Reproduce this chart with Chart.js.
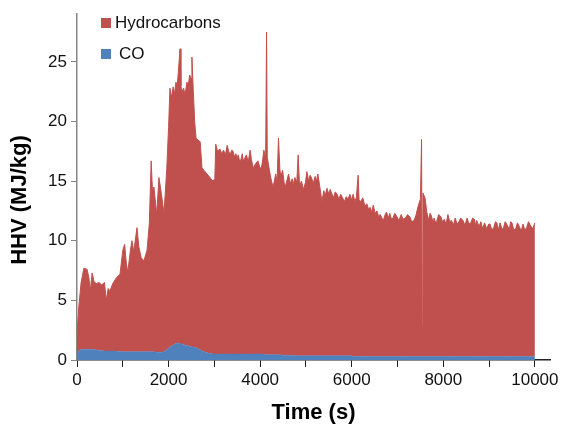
<!DOCTYPE html>
<html>
<head>
<meta charset="utf-8">
<script src="https://cdn.jsdelivr.net/npm/chart.js@4.4.0/dist/chart.umd.min.js"></script>
<style>
  html, body { margin: 0; padding: 0; background: #fff; }
</style>
</head>
<body>
<canvas id="hhvChart" width="562" height="427"></canvas>
<script>
// sampling times (s), shared by both stacked series
const times = [
  0, 40, 90, 150, 220, 260, 290, 330, 370, 420,
  480, 540, 600, 640, 680, 720, 780, 860, 940, 1000,
  1040, 1080, 1110, 1170, 1200, 1240, 1310, 1350, 1400, 1460,
  1530, 1580, 1620, 1650, 1680, 1740, 1790, 1840, 1900, 1960,
  2000, 2030, 2060, 2100, 2130, 2160, 2190, 2220, 2250, 2270,
  2290, 2330, 2360, 2400, 2430, 2460, 2490, 2510, 2540, 2570,
  2600, 2690, 2730, 2840, 2970, 3010, 3030, 3070, 3120, 3160,
  3200, 3240, 3280, 3320, 3350, 3380, 3410, 3440, 3470, 3500,
  3520, 3550, 3580, 3610, 3630, 3660, 3700, 3740, 3780, 3810,
  3850, 3890, 3950, 3990, 4020, 4050, 4080, 4120, 4140, 4155,
  4190, 4230, 4280, 4310, 4340, 4370, 4400, 4430, 4450, 4490,
  4540, 4580, 4620, 4660, 4700, 4720, 4760, 4800, 4830, 4860,
  4900, 4950, 4990, 5020, 5060, 5090, 5120, 5160, 5200, 5230,
  5260, 5300, 5350, 5390, 5420, 5460, 5500, 5530, 5560, 5600,
  5640, 5680, 5720, 5760, 5800, 5840, 5880, 5920, 5960, 6000,
  6030, 6070, 6100, 6140, 6160, 6200, 6240, 6290, 6330, 6370,
  6400, 6440, 6470, 6510, 6550, 6590, 6620, 6660, 6690, 6730,
  6760, 6800, 6830, 6870, 6900, 6940, 6990, 7030, 7080, 7120,
  7170, 7220, 7270, 7310, 7360, 7400, 7450, 7500, 7525, 7540,
  7555, 7600, 7640, 7680, 7710, 7740, 7770, 7800, 7830, 7860,
  7900, 7950, 7980, 8020, 8060, 8100, 8140, 8180, 8220, 8260,
  8300, 8340, 8380, 8430, 8470, 8520, 8560, 8600, 8640, 8680,
  8710, 8730, 8780, 8820, 8860, 8900, 8950, 8990, 9020, 9060,
  9100, 9140, 9170, 9200, 9240, 9280, 9310, 9350, 9400, 9440,
  9470, 9500, 9540, 9580, 9620, 9660, 9700, 9740, 9780, 9820,
  9860, 9900, 9950, 10000
];

// HHV contribution of hydrocarbons (MJ/kg), stacked on top of CO
const hydrocarbons = [
  1.9, 3.7, 5.6, 6.8, 6.7, 6.0, 4.9, 6.4, 5.75, 5.55,
  5.7, 5.5, 5.75, 4.25, 5.25, 5.05, 5.65, 6.15, 6.5, 8.5,
  9.0, 7.3, 6.7, 8.6, 9.3, 8.4, 10.4, 8.8, 7.9, 7.6,
  8.5, 10.8, 16.0, 13.3, 13.8, 11.55, 14.65, 13.35, 11.6, 15.15,
  18.5, 21.7, 20.85, 21.65, 21.0, 21.9, 21.6, 23.1, 24.7, 21.65,
  21.15, 21.5, 20.95, 22.1, 21.8, 22.75, 22.5, 24.3, 21.4, 18.95,
  17.55, 17.45, 15.35, 15.0, 14.5, 14.7, 17.6, 17.0, 17.2, 16.8,
  17.1, 16.7, 17.5, 16.9, 16.8, 17.1, 17.0, 16.5, 16.8, 16.4,
  16.7, 16.2, 16.3, 16.8, 16.2, 16.4, 16.7, 16.1, 17.1, 16.3,
  15.6, 15.9, 16.2, 15.7, 15.5, 16.1, 17.1, 16.55, 27.05, 16.55,
  15.75, 14.85, 14.05, 14.55, 15.15, 14.55, 18.15, 15.55, 14.95, 15.5,
  14.0, 14.6, 15.2, 14.4, 14.8, 14.3, 14.95, 14.55, 16.85, 14.25,
  14.65, 13.95, 14.55, 15.45, 14.65, 15.15, 14.95, 14.45, 15.05, 14.65,
  15.25, 14.25, 12.95, 13.85, 13.45, 14.05, 13.55, 13.95, 13.65, 13.25,
  13.75, 13.55, 13.15, 13.55, 13.25, 12.95, 13.35, 13.15, 13.55, 13.05,
  13.6, 13.0, 13.3, 15.2, 13.1, 13.0, 13.3, 12.6, 12.8, 12.3,
  12.5, 12.1, 12.7, 12.0, 12.2, 11.7, 11.9, 11.6, 11.4, 11.9,
  12.1, 11.6, 12.0, 11.5, 11.6, 12.0, 11.7, 11.4, 11.9, 11.5,
  11.6, 11.9, 11.7, 11.3, 11.4, 11.8, 12.6, 13.2, 18.2, 2.7,
  13.7, 13.3, 12.1, 11.4, 12.0, 11.8, 11.3, 11.6, 11.2, 11.4,
  11.9, 11.7, 11.3, 11.5, 11.1, 11.9, 11.3, 11.4, 11.0, 11.6,
  11.1, 11.3, 11.6, 11.4, 11.0, 11.6, 11.1, 11.2, 11.6, 11.5,
  10.9, 11.4, 10.9, 11.3, 10.7, 11.2, 10.7, 11.1, 11.1, 10.6,
  10.8, 11.3, 11.2, 10.6, 11.2, 10.7, 10.7, 11.3, 11.0, 10.6,
  11.3, 11.2, 10.6, 10.7, 11.2, 10.9, 10.5, 11.1, 10.6, 10.8,
  11.3, 11.0, 10.7, 11.2
];

// HHV contribution of CO (MJ/kg)
const co = [
  0.3, 0.8, 0.9, 0.9, 0.9, 0.9, 0.9, 0.9, 0.85, 0.85,
  0.8, 0.8, 0.75, 0.75, 0.75, 0.75, 0.75, 0.75, 0.7, 0.7,
  0.7, 0.7, 0.7, 0.7, 0.7, 0.7, 0.7, 0.7, 0.7, 0.7,
  0.7, 0.7, 0.7, 0.7, 0.7, 0.65, 0.65, 0.65, 0.7, 0.85,
  1.0, 1.1, 1.15, 1.25, 1.3, 1.4, 1.4, 1.4, 1.4, 1.35,
  1.35, 1.3, 1.25, 1.2, 1.2, 1.15, 1.1, 1.1, 1.1, 1.05,
  1.05, 0.85, 0.75, 0.6, 0.5, 0.5, 0.5, 0.5, 0.5, 0.5,
  0.5, 0.5, 0.5, 0.5, 0.5, 0.5, 0.5, 0.5, 0.5, 0.5,
  0.5, 0.5, 0.5, 0.5, 0.5, 0.5, 0.5, 0.5, 0.5, 0.5,
  0.5, 0.5, 0.5, 0.5, 0.5, 0.5, 0.5, 0.45, 0.45, 0.45,
  0.45, 0.45, 0.45, 0.45, 0.45, 0.45, 0.45, 0.45, 0.45, 0.4,
  0.4, 0.4, 0.4, 0.4, 0.4, 0.4, 0.35, 0.35, 0.35, 0.35,
  0.35, 0.35, 0.35, 0.35, 0.35, 0.35, 0.35, 0.35, 0.35, 0.35,
  0.35, 0.35, 0.35, 0.35, 0.35, 0.35, 0.35, 0.35, 0.35, 0.35,
  0.35, 0.35, 0.35, 0.35, 0.35, 0.35, 0.35, 0.35, 0.35, 0.35,
  0.3, 0.3, 0.3, 0.3, 0.3, 0.3, 0.3, 0.3, 0.3, 0.3,
  0.3, 0.3, 0.3, 0.3, 0.3, 0.3, 0.3, 0.3, 0.3, 0.3,
  0.3, 0.3, 0.3, 0.3, 0.3, 0.3, 0.3, 0.3, 0.3, 0.3,
  0.3, 0.3, 0.3, 0.3, 0.3, 0.3, 0.3, 0.3, 0.3, 0.3,
  0.3, 0.3, 0.3, 0.3, 0.3, 0.3, 0.3, 0.3, 0.3, 0.3,
  0.3, 0.3, 0.3, 0.3, 0.3, 0.3, 0.3, 0.3, 0.3, 0.3,
  0.3, 0.3, 0.3, 0.3, 0.3, 0.3, 0.3, 0.3, 0.3, 0.3,
  0.3, 0.3, 0.3, 0.3, 0.3, 0.3, 0.3, 0.3, 0.3, 0.3,
  0.3, 0.3, 0.3, 0.3, 0.3, 0.3, 0.3, 0.3, 0.3, 0.3,
  0.3, 0.3, 0.3, 0.3, 0.3, 0.3, 0.3, 0.3, 0.3, 0.3,
  0.3, 0.3, 0.3, 0.3
];

const yTicks = [0, 5, 10, 15, 20, 25];
const xTicks = [0, 1000, 2000, 3000, 4000, 5000, 6000, 7000, 8000, 9000, 10000];
const xLabels = [0, 2000, 4000, 6000, 8000, 10000];

const RED = '#C0504D';
const BLUE = '#4F81BD';
const FONT = '"Liberation Sans", Arial, Helvetica, sans-serif';

Chart.defaults.font.family = FONT;
Chart.defaults.color = '#111';

const pts = vals => times.map((t, i) => ({ x: t, y: vals[i] }));

// legend sitting in the top-left corner of the plot
const cornerLegend = {
  id: 'cornerLegend',
  afterDraw(chart) {
    const ctx = chart.ctx;
    const rows = [
      { ds: chart.data.datasets[1], y: 23, textX: 115 },
      { ds: chart.data.datasets[0], y: 54, textX: 119 }
    ];
    ctx.save();
    ctx.font = '17px ' + FONT;
    ctx.textBaseline = 'middle';
    rows.forEach(r => {
      ctx.fillStyle = r.ds.backgroundColor;
      ctx.fillRect(101, r.y - 5, 10, 10);
      ctx.fillStyle = '#111';
      ctx.fillText(r.ds.label, r.textX, r.y);
    });
    ctx.restore();
  }
};

// rotated y axis title
const yTitle = {
  id: 'yTitle',
  afterDraw(chart) {
    const ctx = chart.ctx;
    ctx.save();
    ctx.translate(20, 200);
    ctx.rotate(-Math.PI / 2);
    ctx.font = 'bold 22px ' + FONT;
    ctx.fillStyle = '#000';
    ctx.textAlign = 'center';
    ctx.textBaseline = 'middle';
    ctx.fillText('HHV (MJ/kg)', 0, 0);
    ctx.restore();
  }
};

new Chart(document.getElementById('hhvChart').getContext('2d'), {
  type: 'line',
  data: {
    datasets: [
      {
        label: 'CO',
        data: pts(co),
        backgroundColor: BLUE,
        borderColor: BLUE,
        borderWidth: 0.5,
        fill: 'origin'
      },
      {
        label: 'Hydrocarbons',
        data: pts(hydrocarbons),
        backgroundColor: RED,
        borderColor: RED,
        borderWidth: 1,
        fill: '-1'
      }
    ]
  },
  options: {
    responsive: false,
    animation: false,
    layout: { padding: { top: 12, right: 12, left: 0, bottom: 0 } },
    elements: { point: { radius: 0 }, line: { tension: 0 } },
    plugins: { legend: { display: false }, tooltip: { enabled: false } },
    scales: {
      x: {
        type: 'linear',
        min: 0,
        max: 10330,
        afterBuildTicks: s => { s.ticks = xTicks.map(v => ({ value: v })); },
        ticks: {
          autoSkip: false,
          maxRotation: 0,
          padding: 3,
          font: { size: 17 },
          callback: v => xLabels.includes(v) ? String(v) : ''
        },
        grid: { drawOnChartArea: false, tickLength: 7, color: '#222' },
        border: { color: '#222', width: 1.5 },
        title: {
          display: true,
          text: 'Time (s)',
          color: '#000',
          font: { size: 22, weight: 'bold' },
          padding: { top: 0, bottom: 1 }
        },
        afterFit: s => { s.height = 67; }
      },
      y: {
        stacked: true,
        min: 0,
        max: 29,
        afterBuildTicks: s => { s.ticks = yTicks.map(v => ({ value: v })); },
        ticks: { padding: 4, font: { size: 17 } },
        grid: { drawOnChartArea: false, tickLength: 6, color: '#868686' },
        border: { color: '#868686', width: 1.5 },
        afterFit: s => { s.width = 77; }
      }
    }
  },
  plugins: [cornerLegend, yTitle]
});
</script>
</body>
</html>
